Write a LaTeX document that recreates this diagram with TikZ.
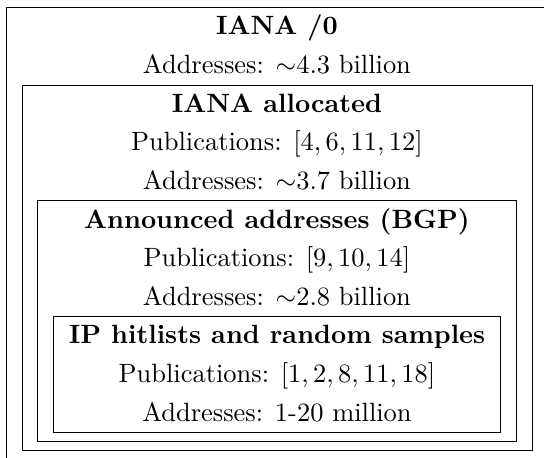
\documentclass[tikz,border=0pt]{standalone}
\usetikzlibrary{positioning}

\begin{document}
\begin{tikzpicture}[node distance=5.13mm, txt/.style={inner sep=0pt, text height=7pt, text depth=2pt}, head/.style={txt, font=\bfseries}, box/.style={draw, line width=0.4pt}]
   \useasboundingbox (0,0) rectangle (7.228,6.085);
   % whole address space
   \node[head] (iana) at (3.68,5.708) {IANA /0};
   \node[txt, below of=iana] (ianaAddr) {Addresses: $\sim$4.3 billion};
   % allocated
   \node[head, below of=ianaAddr] (alloc) {IANA allocated};
   \node[txt, below of=alloc] (allocPub) {Publications: $[4,6,11,12]$};
   \node[txt, below of=allocPub] (allocAddr) {Addresses: $\sim$3.7 billion};
   % routed
   \node[head, below of=allocAddr] (bgp) {Announced addresses (BGP)};
   \node[txt, below of=bgp] (bgpPub) {Publications: $[9,10,14]$};
   \node[txt, below of=bgpPub] (bgpAddr) {Addresses: $\sim$2.8 billion};
   % hitlists
   \node[head, below of=bgpAddr] (hit) {IP hitlists and random samples};
   \node[txt, below of=hit] (hitPub) {Publications: $[1,2,8,11,18]$};
   \node[txt, below of=hitPub] (hitAddr) {Addresses: 1-20 million};

   \draw[box] (7.228,5.988) -| (0.089,0);
   \draw[box] (0.302,0.097) rectangle (7.073,4.943);
   \draw[box] (0.501,0.213) rectangle (6.865,3.415);
   \draw[box] (0.708,0.336) rectangle (6.653,1.877);
 \end{tikzpicture}
\end{document}
